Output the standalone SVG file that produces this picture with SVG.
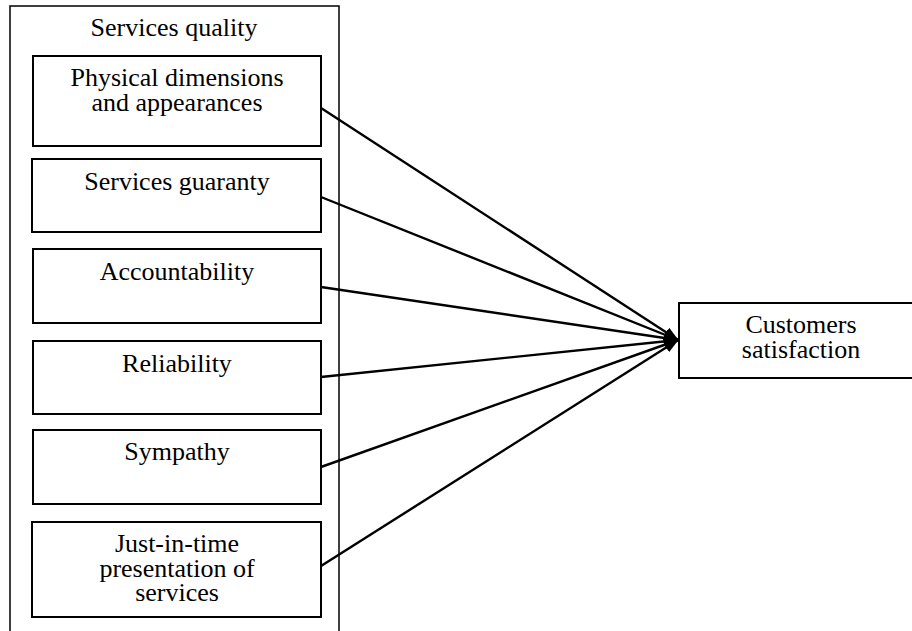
<svg xmlns="http://www.w3.org/2000/svg" width="912" height="631" viewBox="0 0 912 631">
<style>
  .box { fill: #fff; stroke: #000; stroke-width: 2; }
  .outer { fill: none; stroke: #000; stroke-width: 1.5; }
  .lbl { font-family: "Liberation Serif", "Times New Roman", serif; font-size: 26px; fill: #000; text-anchor: middle; }
  .conn { stroke: #000; stroke-width: 2.4; fill: none; marker-end: url(#ah); }
</style>
<defs>
  <marker id="ah" markerWidth="15" markerHeight="11" refX="14" refY="5.5" orient="auto" markerUnits="userSpaceOnUse">
    <path d="M0,0 L15,5.5 L0,11 z" fill="#000"/>
  </marker>
</defs>
<rect width="912" height="631" fill="#fff"/>
<g id="services-quality">
  <rect class="outer" x="10" y="6" width="329" height="640"/>
  <text class="lbl" x="174" y="36">Services quality</text>
</g>
<g id="physical">
  <rect class="box" x="33" y="56" width="288" height="90"/>
  <text class="lbl" x="177" y="86">Physical dimensions</text>
  <text class="lbl" x="177" y="111">and appearances</text>
</g>
<g id="guaranty">
  <rect class="box" x="32" y="159" width="289" height="73"/>
  <text class="lbl" x="177" y="190">Services guaranty</text>
</g>
<g id="accountability">
  <rect class="box" x="33" y="249" width="288" height="74"/>
  <text class="lbl" x="177" y="280">Accountability</text>
</g>
<g id="reliability">
  <rect class="box" x="33" y="341" width="288" height="73"/>
  <text class="lbl" x="177" y="372">Reliability</text>
</g>
<g id="sympathy">
  <rect class="box" x="33" y="430" width="288" height="74"/>
  <text class="lbl" x="177" y="460">Sympathy</text>
</g>
<g id="just-in-time">
  <rect class="box" x="32" y="522" width="289" height="95"/>
  <text class="lbl" x="177" y="552">Just-in-time</text>
  <text class="lbl" x="177" y="577">presentation of</text>
  <text class="lbl" x="177" y="601">services</text>
</g>
<g id="customers">
  <rect class="box" x="679" y="303" width="244" height="75"/>
  <text class="lbl" x="801" y="333">Customers</text>
  <text class="lbl" x="801" y="358">satisfaction</text>
</g>
<g id="connectors">
  <line class="conn" x1="321" y1="108" x2="678" y2="340"/>
  <line class="conn" x1="321" y1="197" x2="678" y2="340"/>
  <line class="conn" x1="321" y1="287" x2="678" y2="340"/>
  <line class="conn" x1="321" y1="377" x2="678" y2="340"/>
  <line class="conn" x1="321" y1="467" x2="678" y2="340"/>
  <line class="conn" x1="321" y1="566" x2="678" y2="340"/>
</g>
</svg>
